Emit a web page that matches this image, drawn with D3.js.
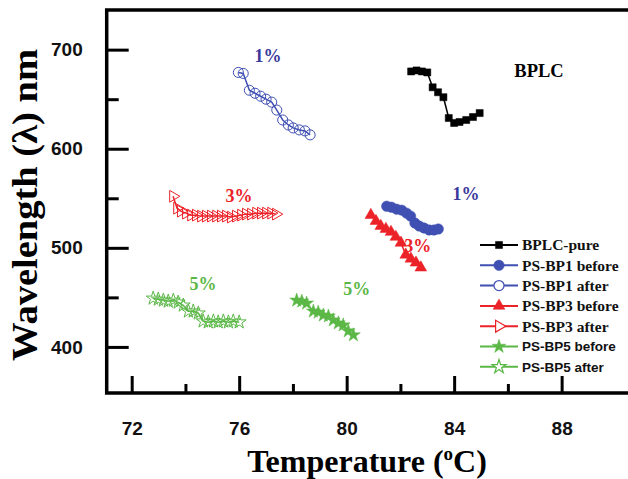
<html lang="en">
<head>
  <meta charset="UTF-8">
  <title>Wavelength vs temperature</title>
  <style>
    body { margin: 0; background: #fff; }
    #viz { width: 628px; height: 479px; }
  </style>
</head>
<body>
  <div id="viz"></div>
  <script src="https://d3js.org/d3.v7.min.js"></script>
  <script>
    // values: [temperature (oC), wavelength (nm)]
    const bplcPure = [[82.4,678],[82.6,679],[82.8,678],[83.0,677],[83.2,662],[83.4,657],[83.6,652],
      [83.8,631],[84.0,626],[84.2,627],[84.45,629],[84.7,632],[84.95,636]]
    const bp1Before = [[81.49,542],[81.67,541],[81.86,539],[82.05,538],[82.23,535],[82.38,532],
      [82.54,525],[82.7,522],[82.88,520],[83.07,518],[83.25,518],[83.41,519]]
    const bp1After = [[75.97,677],[76.15,676],[76.38,659],[76.59,656],[76.8,653],[77.0,650],[77.21,647],
      [77.4,639],[77.62,629],[77.83,624],[78.01,621],[78.24,619],[78.45,618],[78.64,614]]
    const bp3Before = [[80.9,533],[81.09,527],[81.27,522],[81.46,519],[81.65,516],[81.83,511],
      [82.02,505],[82.2,493],[82.39,489],[82.58,485],[82.76,480]]
    const bp3After = [[73.54,552],[73.69,540],[73.83,537],[74.02,535],[74.21,533],[74.39,533],[74.58,532],
      [74.76,532],[74.95,532],[75.14,532],[75.32,532],[75.51,532],[75.69,531],[75.88,532],[76.07,533],
      [76.25,534],[76.44,534],[76.63,535],[76.81,535],[77.0,535],[77.19,535],[77.37,534]]
    const bp5Before = [[78.14,447],[78.33,446],[78.51,444],[78.76,436],[78.94,435],[79.13,432],
      [79.32,431],[79.5,427],[79.69,424],[79.87,422],[80.06,416],[80.25,412]]
    const bp5After = [[72.8,449],[72.99,448],[73.18,447],[73.36,446],[73.55,447],[73.73,445],[73.92,442],
      [74.11,436],[74.29,436],[74.48,434],[74.66,426],[74.85,425],[75.04,426],[75.22,425],[75.41,426],
      [75.6,425],[75.78,426],[76.0,425]]

    const xMajor = [72, 76, 80, 84, 88]
    const xMinor = [74, 78, 82, 86]
    const yMajor = [400, 500, 600, 700]
    const yMinor = [450, 550, 650]

    const legendNames = ["BPLC-pure", "PS-BP1 before", "PS-BP1 after", "PS-BP3 before",
      "PS-BP3 after", "PS-BP5 before", "PS-BP5 after"]

    // annotation labels: [temperature, wavelength, text, series index for colour]
    const notes = [[77.07, 688, "1%", 1], [84.44, 548.5, "1%", 1], [75.99, 546.5, "3%", 3],
      [82.65, 496, "3%", 3], [74.65, 457.6, "5%", 5], [80.38, 452.5, "5%", 5]]

    const blue = "#3f4fb2", red = "#ec2229", green = "#5bb847", navy = "#3a3a9c"
    const series = [
      {data: bplcPure, color: "#000", shape: d3.symbolSquare, size: 50, open: false, rot: 0},
      {data: bp1Before, color: blue, shape: d3.symbolCircle, size: 85, open: false, rot: 0},
      {data: bp1After, color: blue, shape: d3.symbolCircle, size: 80, open: true, rot: 0},
      {data: bp3Before, color: red, shape: d3.symbolTriangle, size: 60, open: false, rot: 0},
      {data: bp3After, color: red, shape: d3.symbolTriangle, size: 60, open: true, rot: 90},
      {data: bp5Before, color: green, shape: d3.symbolStar, size: 60, open: false, rot: 0},
      {data: bp5After, color: green, shape: d3.symbolStar, size: 60, open: true, rot: 0}
    ]

    const margin = {top: 10, left: 106.7}
    const width = 521.3, height = 383

    const svg = d3.select("#viz").append("svg")
      .attr("width", 628).attr("height", 479)
    const g = svg.append("g")
      .attr("transform", "translate(" + margin.left + "," + margin.top + ")")

    const x = d3.scaleLinear().domain([71.07, 90.47]).range([0, width])
    const y = d3.scaleLinear().domain([353.5, 740]).range([height, 0])

    // axes, ticks pointing inward
    g.append("g").attr("transform", "translate(0," + height + ")")
      .call(d3.axisBottom(x).tickValues(xMajor).tickSize(-17).tickPadding(29).tickFormat(d3.format("d")))
    g.append("g").attr("transform", "translate(0," + height + ")")
      .call(d3.axisBottom(x).tickValues(xMinor).tickSize(-9).tickFormat(""))
    g.append("g")
      .call(d3.axisLeft(y).tickValues(yMajor).tickSize(-22).tickPadding(24))
    g.append("g")
      .call(d3.axisLeft(y).tickValues(yMinor).tickSize(-12).tickFormat(""))

    g.selectAll(".domain").remove()
    g.selectAll(".tick line").attr("stroke", "#000").attr("stroke-width", 3)
    g.selectAll(".tick text")
      .attr("fill", "#111")
      .style("font-family", "'Liberation Sans', Arial, sans-serif")
      .style("font-weight", "bold")
      .style("font-size", "19px")

    // frame: left, top, bottom
    g.append("path")
      .attr("d", "M" + (width + 5) + ",0H0V" + height + "H" + (width + 5))
      .attr("fill", "none").attr("stroke", "#000").attr("stroke-width", 3.5)

    // series
    const line = d3.line().x(function(d) { return x(d[0]) }).y(function(d) { return y(d[1]) })
    series.forEach(function(s) {
      g.append("path").datum(s.data).attr("d", line)
        .attr("fill", "none").attr("stroke", s.color).attr("stroke-width", 1.5)
      g.append("g").selectAll("path").data(s.data).enter().append("path")
        .attr("d", d3.symbol().type(s.shape).size(s.size))
        .attr("transform", function(d) { return "translate(" + x(d[0]) + "," + y(d[1]) + ") rotate(" + s.rot + ")" })
        .attr("fill", s.open ? "none" : s.color)
        .attr("stroke", s.color)
        .attr("stroke-width", s.open ? 1 : 0.5)
    })

    // labels in the plot
    const serif = "'Liberation Serif', 'Times New Roman', serif"
    g.selectAll("text.note").data(notes).enter().append("text")
      .attr("class", "note")
      .attr("x", function(d) { return x(d[0]) })
      .attr("y", function(d) { return y(d[1]) })
      .attr("text-anchor", "middle")
      .attr("fill", function(d) { return d[3] === 1 ? navy : series[d[3]].color })
      .style("font-family", serif).style("font-weight", "bold").style("font-size", "18px")
      .text(function(d) { return d[2] })
    g.append("text")
      .attr("x", x(87.16)).attr("y", y(672.7))
      .attr("text-anchor", "middle")
      .style("font-family", serif).style("font-weight", "bold").style("font-size", "18.5px")
      .text("BPLC")

    // legend
    const legend = svg.append("g").attr("transform", "translate(480,245)")
    const rows = legend.selectAll("g").data(series).enter().append("g")
      .attr("transform", function(d, i) { return "translate(0," + (i * 20.3) + ")" })
    rows.append("line").attr("x1", 0).attr("x2", 38)
      .attr("stroke", function(d) { return d.color }).attr("stroke-width", 2)
    rows.append("path")
      .attr("d", function(d) { return d3.symbol().type(d.shape).size(d.size)() })
      .attr("transform", function(d) { return "translate(19,0) rotate(" + d.rot + ")" })
      .attr("fill", function(d) { return d.open ? "#fff" : d.color })
      .attr("stroke", function(d) { return d.color })
      .attr("stroke-width", function(d) { return d.open ? 1.2 : 0.5 })
    rows.append("text")
      .attr("x", 42).attr("dy", "0.35em")
      .attr("fill", "#111")
      .style("font-family", function(d, i) { return i < 5 ? serif : "'Liberation Sans', Arial, sans-serif" })
      .style("font-weight", "bold")
      .style("font-size", function(d, i) { return i < 5 ? "15.5px" : "13.5px" })
      .text(function(d, i) { return legendNames[i] })

    // axis titles
    const xTitle = svg.append("text")
      .attr("x", 367).attr("y", 472)
      .attr("text-anchor", "middle")
      .style("font-family", serif).style("font-weight", "bold").style("font-size", "32px")
    xTitle.append("tspan").text("Temperature (")
    xTitle.append("tspan").attr("dy", -12).style("font-size", "19px").text("o")
    xTitle.append("tspan").attr("dy", 12).text("C)")

    svg.append("text")
      .attr("transform", "translate(37,205) rotate(-90)")
      .attr("text-anchor", "middle")
      .attr("textLength", 312).attr("lengthAdjust", "spacingAndGlyphs")
      .style("font-family", serif).style("font-weight", "bold").style("font-size", "35px")
      .text("Wavelength (\u03bb) nm")
  </script>
</body>
</html>
